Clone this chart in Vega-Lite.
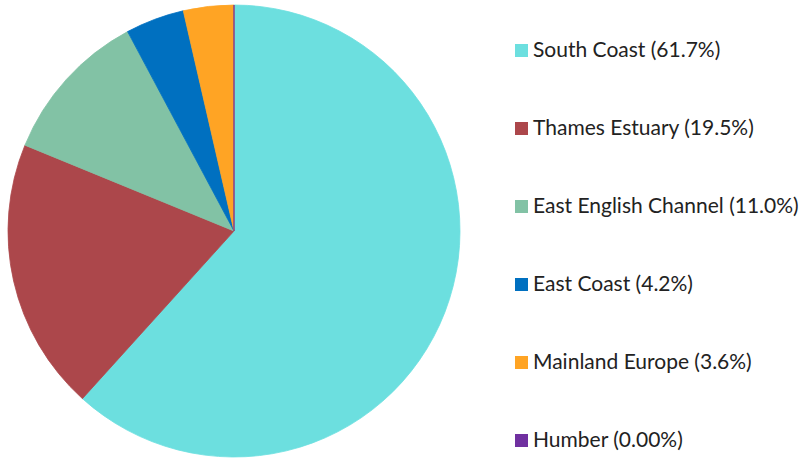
{
  "$schema": "https://vega.github.io/schema/vega-lite/v6.json",
  "width": 468,
  "height": 462,
  "padding": {"left": 0, "top": 0, "right": 0, "bottom": 0},
  "autosize": {"type": "pad"},
  "background": "white",
  "config": {"view": {"stroke": null}, "font": "Lato"},
  "data": {
    "values": [
      {"region": "South Coast (61.7%)", "share": 61.7, "idx": 1},
      {"region": "Thames Estuary (19.5%)", "share": 19.5, "idx": 2},
      {"region": "East English Channel (11.0%)", "share": 11.0, "idx": 3},
      {"region": "East Coast (4.2%)", "share": 4.2, "idx": 4},
      {"region": "Mainland Europe (3.6%)", "share": 3.6, "idx": 5},
      {"region": "Humber (0.00%)", "share": 0.001, "idx": 6}
    ]
  },
  "mark": {"type": "arc", "outerRadius": 226, "strokeWidth": 0.8},
  "encoding": {
    "theta": {"field": "share", "type": "quantitative", "stack": true},
    "order": {"field": "idx", "type": "quantitative"},
    "color": {
      "field": "region",
      "type": "nominal",
      "scale": {
        "domain": ["South Coast (61.7%)", "Thames Estuary (19.5%)", "East English Channel (11.0%)", "East Coast (4.2%)", "Mainland Europe (3.6%)", "Humber (0.00%)"],
        "range": ["#6CDFDF", "#AC474B", "#82C2A5", "#0070C0", "#FFA424", "#7030A0"]
      },
      "legend": {
        "title": null,
        "orient": "none",
        "legendX": 511,
        "legendY": 40,
        "symbolType": "square",
        "symbolSize": 169,
        "symbolStrokeWidth": 0,
        "labelFontSize": 21,
        "labelFont": "Lato",
        "labelColor": "#222222",
        "labelOffset": 1,
        "rowPadding": 56,
        "labelLimit": 400
      }
    },
    "stroke": {"field": "region", "type": "nominal", "legend": null,
      "scale": {
        "domain": ["South Coast (61.7%)", "Thames Estuary (19.5%)", "East English Channel (11.0%)", "East Coast (4.2%)", "Mainland Europe (3.6%)", "Humber (0.00%)"],
        "range": ["#6CDFDF", "#AC474B", "#82C2A5", "#0070C0", "#FFA424", "#7030A0"]
      }
    }
  }
}
